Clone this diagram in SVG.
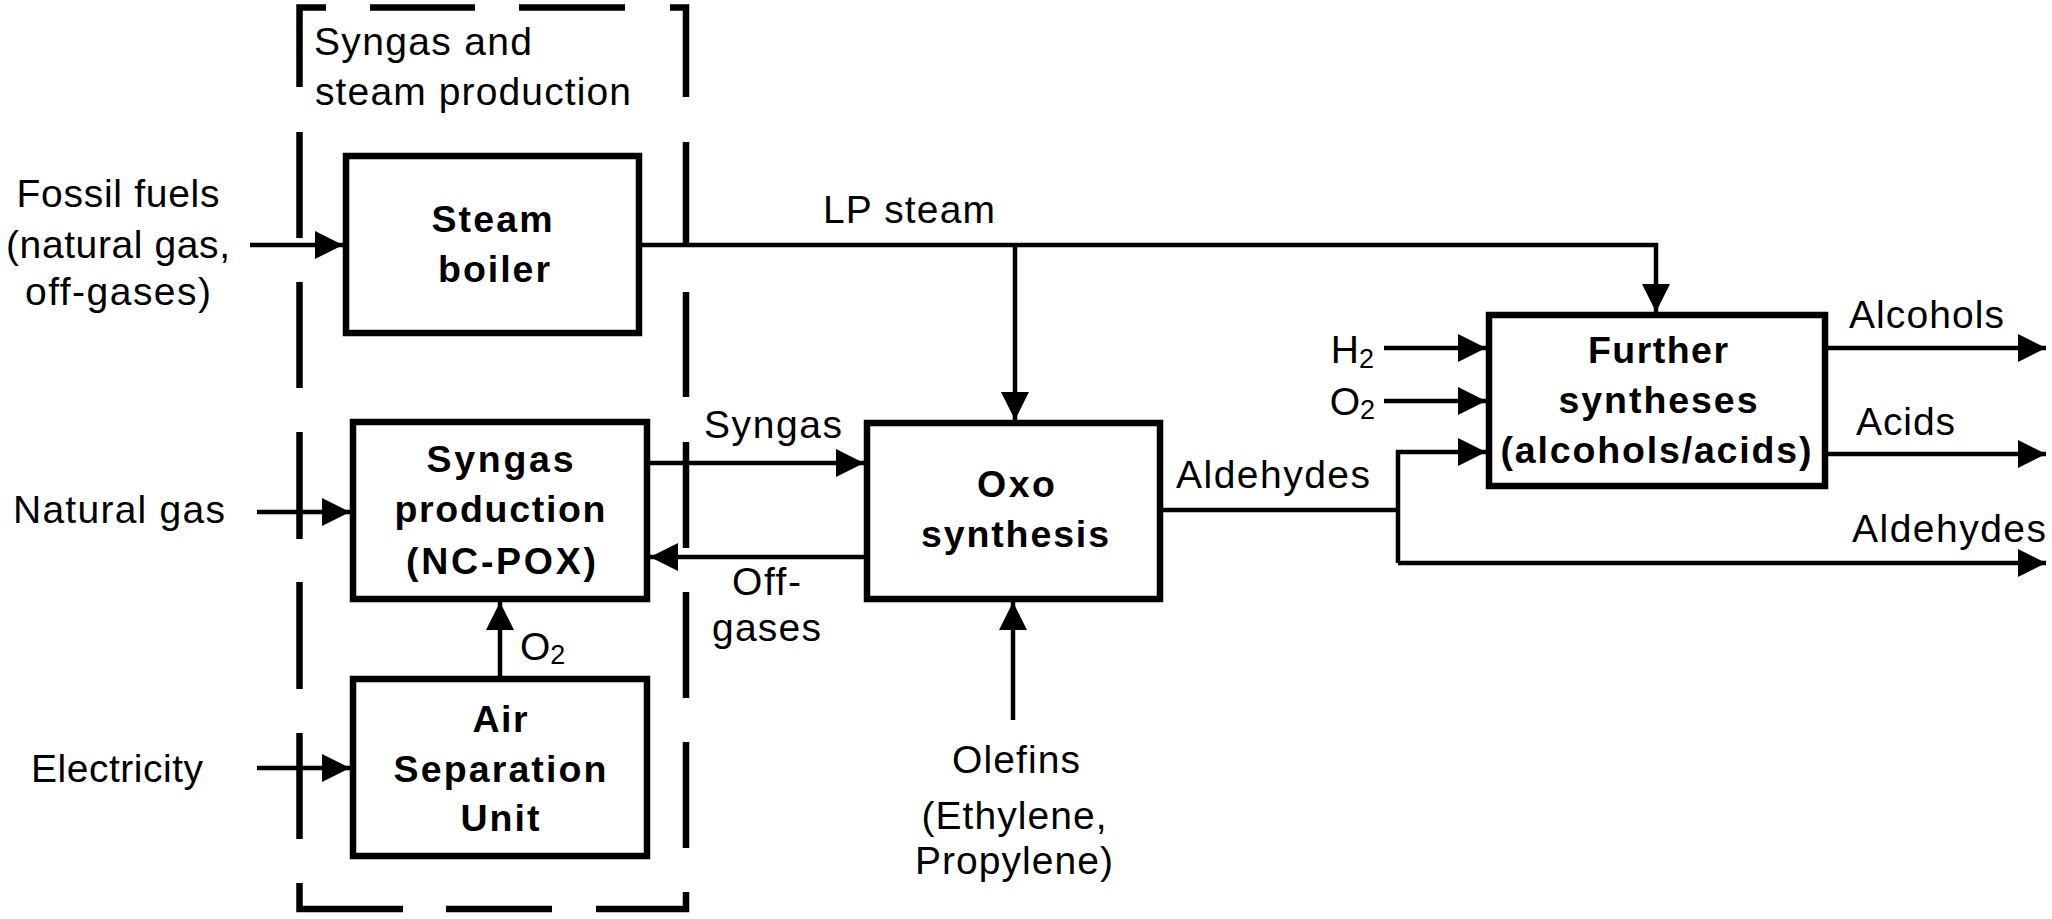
<svg xmlns="http://www.w3.org/2000/svg" width="2052" height="919" viewBox="0 0 2052 919">
<style>
.t{font-family:"Liberation Sans",Arial,sans-serif;font-size:39px;fill:#000}
.b{font-family:"Liberation Sans",Arial,sans-serif;font-size:37.5px;font-weight:bold;fill:#000}
.m{text-anchor:middle}
.e{text-anchor:end}
.box{fill:#fff;stroke:#000;stroke-width:6.5}
.dash{fill:none;stroke:#000;stroke-width:6.5;stroke-linejoin:miter}
.c{fill:none;stroke:#000;stroke-width:4.5}
.sub{font-size:27px}
</style>
<defs>
<marker id="ah" viewBox="0 0 28 28" markerWidth="28" markerHeight="28" refX="28" refY="14" orient="auto" markerUnits="userSpaceOnUse">
<path d="M0,0 L28,14 L0,28 z" fill="#000"/>
</marker>
</defs>
<rect width="2052" height="919" fill="#fff"/>

<g id="group-boundary">
<path class="dash" d="M326,7.5 H299.5 V87 M370,7.5 H475 M519,7.5 H625 M670,7.5 H686 V97 M299.5,132 V238 M299.5,282 V388 M299.5,432 V539 M299.5,582 V689 M299.5,733 V839 M299.5,883 V909 H403 M446,909 H552 M596,909 H686 V892 M686,142 V247 M686,292 V397 M686,442 V548 M686,592 V698 M686,742 V848"/>
<text class="t" x="314" y="55" textLength="218" lengthAdjust="spacing">Syngas and</text>
<text class="t" x="315" y="105" textLength="316" lengthAdjust="spacing">steam production</text>
</g>

<g id="connectors">
<path class="c" d="M250,245 H343" marker-end="url(#ah)"/>
<path class="c" d="M257,512 H350" marker-end="url(#ah)"/>
<path class="c" d="M257,768 H350" marker-end="url(#ah)"/>
<path class="c" d="M500,676 V602" marker-end="url(#ah)"/>
<path class="c" d="M642,245 H1656 V312" marker-end="url(#ah)"/>
<path class="c" d="M1015,245 V420" marker-end="url(#ah)"/>
<path class="c" d="M650,463 H864" marker-end="url(#ah)"/>
<path class="c" d="M864,557 H650" marker-end="url(#ah)"/>
<path class="c" d="M1013,720 V602" marker-end="url(#ah)"/>
<path class="c" d="M1163,510 H1398"/>
<path class="c" d="M1398,563 V452 H1486" marker-end="url(#ah)"/>
<path class="c" d="M1398,563 H2046" marker-end="url(#ah)"/>
<path class="c" d="M1384,348 H1486" marker-end="url(#ah)"/>
<path class="c" d="M1384,401 H1486" marker-end="url(#ah)"/>
<path class="c" d="M1828,348 H2046" marker-end="url(#ah)"/>
<path class="c" d="M1828,454 H2046" marker-end="url(#ah)"/>
<text class="t" x="823" y="223" textLength="172" lengthAdjust="spacing">LP steam</text>
<text class="t" x="704" y="438" textLength="138" lengthAdjust="spacing">Syngas</text>
<text class="t" x="732" y="595" textLength="69" lengthAdjust="spacing">Off-</text>
<text class="t" x="712" y="641" textLength="109" lengthAdjust="spacing">gases</text>
<text class="t" x="520" y="660">O<tspan class="sub" dy="4">2</tspan></text>
<text class="t e" x="1374" y="363">H<tspan class="sub" dy="5">2</tspan></text>
<text class="t e" x="1375" y="415">O<tspan class="sub" dy="4">2</tspan></text>
<text class="t" x="1176" y="488" textLength="194" lengthAdjust="spacing">Aldehydes</text>
<text class="t" x="1849" y="328" textLength="155" lengthAdjust="spacing">Alcohols</text>
<text class="t" x="1856" y="435" textLength="99" lengthAdjust="spacing">Acids</text>
<text class="t" x="1852" y="542" textLength="194" lengthAdjust="spacing">Aldehydes</text>
</g>

<g id="input-fossil-fuels">
<text class="t m" x="118" y="207" textLength="203" lengthAdjust="spacing">Fossil fuels</text>
<text class="t m" x="118" y="258" textLength="224" lengthAdjust="spacing">(natural gas,</text>
<text class="t m" x="118" y="305" textLength="186" lengthAdjust="spacing">off-gases)</text>
</g>

<g id="input-natural-gas">
<text class="t" x="13" y="523" textLength="212" lengthAdjust="spacing">Natural gas</text>
</g>

<g id="input-electricity">
<text class="t" x="31" y="782" textLength="172" lengthAdjust="spacing">Electricity</text>
</g>

<g id="input-olefins">
<text class="t m" x="1016" y="773" textLength="128" lengthAdjust="spacing">Olefins</text>
<text class="t m" x="1014" y="829" textLength="185" lengthAdjust="spacing">(Ethylene,</text>
<text class="t m" x="1014" y="874" textLength="198" lengthAdjust="spacing">Propylene)</text>
</g>

<g id="steam-boiler">
<rect class="box" x="346" y="156" width="293" height="177"/>
<text class="b m" x="492" y="232" textLength="121" lengthAdjust="spacing">Steam</text>
<text class="b m" x="494" y="282" textLength="112" lengthAdjust="spacing">boiler</text>
</g>

<g id="syngas-production">
<rect class="box" x="353" y="422" width="294" height="177"/>
<text class="b m" x="500" y="472" textLength="147" lengthAdjust="spacing">Syngas</text>
<text class="b m" x="500" y="522" textLength="211" lengthAdjust="spacing">production</text>
<text class="b m" x="501" y="574" textLength="190" lengthAdjust="spacing">(NC-POX)</text>
</g>

<g id="air-separation-unit">
<rect class="box" x="353" y="679" width="294" height="177"/>
<text class="b m" x="500" y="732" textLength="55" lengthAdjust="spacing">Air</text>
<text class="b m" x="500" y="782" textLength="213" lengthAdjust="spacing">Separation</text>
<text class="b m" x="500" y="831" textLength="79" lengthAdjust="spacing">Unit</text>
</g>

<g id="oxo-synthesis">
<rect class="box" x="867" y="423" width="293" height="176"/>
<text class="b m" x="1016" y="497" textLength="78" lengthAdjust="spacing">Oxo</text>
<text class="b m" x="1015" y="547" textLength="188" lengthAdjust="spacing">synthesis</text>
</g>

<g id="further-syntheses">
<rect class="box" x="1489" y="315" width="336" height="171"/>
<text class="b m" x="1658" y="363" textLength="140" lengthAdjust="spacing">Further</text>
<text class="b m" x="1658" y="413" textLength="199" lengthAdjust="spacing">syntheses</text>
<text class="b m" x="1656" y="463" textLength="311" lengthAdjust="spacing">(alcohols/acids)</text>
</g>
</svg>
